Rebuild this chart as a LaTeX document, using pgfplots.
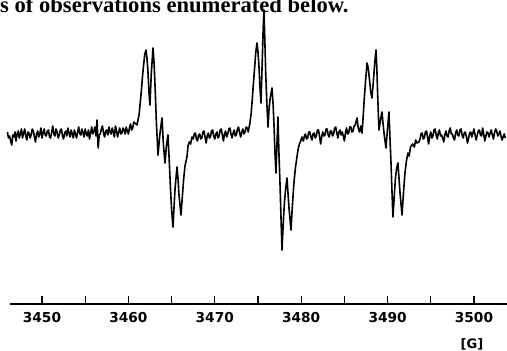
\documentclass[border=0pt]{standalone}
\usepackage{pgfplots}
\pgfplotsset{compat=1.18}
\usepackage{fontspec}
\setmainfont{Liberation Serif}
\newfontfamily\dvb{DejaVu Sans}[BoldFont={DejaVu Sans Bold}]
\begin{document}
\begin{tikzpicture}
\begin{axis}[
  at={(0,0)}, anchor=south west,
  scale only axis, width=497pt, height=304pt,
  xmin=3446.30, xmax=3503.82, ymin=0, ymax=304,
  clip=false,
  axis y line=none, axis x line*=bottom,
  axis line style={line width=1.2pt, black},
  xtick={3450,3455,...,3500},
  xticklabels={3450,,3460,,3470,,3480,,3490,,3500},
  tick align=inside, major tick length=8pt,
  tick style={line width=1.1pt, black},
  xticklabel style={font=\dvb\bfseries\fontsize{13.7}{14}\selectfont, yshift=-5pt},
]
\addplot[black, line width=1.6pt, line join=round] coordinates {
(3446.000,172) (3446.125,166) (3446.250,168) (3446.375,163) (3446.500,159) (3446.625,169)
(3446.750,167) (3446.875,172) (3447.000,163) (3447.125,170) (3447.250,173) (3447.375,166)
(3447.500,170) (3447.625,175) (3447.750,166) (3447.875,171) (3448.000,175) (3448.125,168)
(3448.250,164) (3448.375,172) (3448.500,171) (3448.625,166) (3448.750,169) (3448.875,175)
(3449.000,173) (3449.125,167) (3449.250,162) (3449.375,170) (3449.500,173) (3449.625,167)
(3449.750,170) (3449.875,176) (3450.000,166) (3450.125,171) (3450.250,175) (3450.375,169)
(3450.500,168) (3450.625,173) (3450.750,174) (3450.875,167) (3451.000,166) (3451.125,172)
(3451.250,178) (3451.375,170) (3451.500,168) (3451.625,175) (3451.750,172) (3451.875,166)
(3452.000,169) (3452.125,174) (3452.250,175) (3452.375,168) (3452.500,165) (3452.625,171)
(3452.750,173) (3452.875,168) (3453.000,176) (3453.125,171) (3453.250,167) (3453.375,174)
(3453.500,170) (3453.625,166) (3453.750,174) (3453.875,170) (3454.000,166) (3454.125,172)
(3454.250,177) (3454.375,170) (3454.500,169) (3454.625,175) (3454.750,171) (3454.875,167)
(3455.000,175) (3455.125,170) (3455.250,168) (3455.375,174) (3455.500,165) (3455.625,171)
(3455.750,177) (3455.875,170) (3456.000,173) (3456.125,177) (3456.250,168) (3456.375,184)
(3456.500,156) (3456.625,169) (3456.750,170) (3456.875,175) (3457.000,178) (3457.125,171)
(3457.250,167) (3457.375,173) (3457.500,174) (3457.625,169) (3457.750,177) (3457.875,172)
(3458.000,170) (3458.125,176) (3458.250,172) (3458.375,167) (3458.500,178) (3458.625,173)
(3458.750,167) (3458.875,172) (3459.000,176) (3459.125,170) (3459.250,171) (3459.375,176)
(3459.500,174) (3459.625,170) (3459.750,177) (3459.875,173) (3460.000,170) (3460.125,176)
(3460.250,180) (3460.375,174) (3460.500,176) (3460.625,182) (3460.750,181)
(3461.00,179) (3461.25,190) (3461.40,204) (3461.50,213) (3461.62,226) (3461.75,238)
(3461.90,250) (3462.04,254) (3462.15,246) (3462.25,235) (3462.38,212) (3462.50,199)
(3462.65,230) (3462.85,256) (3462.98,240) (3463.10,215) (3463.25,180) (3463.43,149)
(3463.65,170) (3463.89,186) (3464.05,160) (3464.24,141) (3464.40,158) (3464.58,169)
(3464.72,145) (3464.85,120) (3465.00,95) (3465.16,77) (3465.28,96) (3465.40,115)
(3465.63,137) (3465.75,125) (3465.85,110) (3466.09,89) (3466.25,108) (3466.40,125)
(3466.55,138) (3466.78,147) (3466.90,158) (3467.05,162) (3467.20,160) (3467.36,167)
(3467.500,165) (3467.625,170) (3467.750,171) (3467.875,165) (3468.000,163) (3468.125,169)
(3468.250,170) (3468.375,165) (3468.500,166) (3468.625,172) (3468.750,173) (3468.875,167)
(3469.000,161) (3469.125,168) (3469.250,171) (3469.375,166) (3469.500,167) (3469.625,173)
(3469.750,174) (3469.875,168) (3470.000,165) (3470.125,170) (3470.250,172) (3470.375,166)
(3470.500,168) (3470.625,174) (3470.750,175) (3470.875,169) (3471.000,163) (3471.125,170)
(3471.250,173) (3471.375,167) (3471.500,170) (3471.625,175) (3471.750,176) (3471.875,170)
(3472.000,166) (3472.125,171) (3472.250,174) (3472.375,168) (3472.500,169) (3472.625,175)
(3472.750,177) (3472.875,171) (3473.000,167) (3473.125,172) (3473.250,175) (3473.375,170)
(3473.500,172) (3473.625,177) (3473.750,176) (3473.875,172) (3474.000,178)
(3474.07,181) (3474.20,190) (3474.30,200) (3474.45,218) (3474.60,235) (3474.75,252)
(3474.88,261) (3475.00,252) (3475.10,240) (3475.22,218) (3475.35,201) (3475.50,245)
(3475.60,275) (3475.69,294) (3475.80,262) (3475.90,230) (3476.03,200) (3476.16,177)
(3476.28,195) (3476.40,205) (3476.62,216) (3476.75,200) (3476.85,180) (3476.97,150)
(3477.08,131) (3477.20,160) (3477.31,187) (3477.43,150) (3477.55,120) (3477.67,85)
(3477.78,54) (3477.92,80) (3478.05,100) (3478.20,115) (3478.36,126) (3478.48,110)
(3478.60,95) (3478.82,74) (3478.98,98) (3479.15,120) (3479.33,136) (3479.51,147)
(3479.65,155) (3479.80,160) (3479.95,163) (3480.09,167)
(3480.250,163) (3480.375,168) (3480.500,170) (3480.625,165) (3480.750,166) (3480.875,172)
(3481.000,172) (3481.125,167) (3481.250,164) (3481.375,170) (3481.500,171) (3481.625,166)
(3481.750,168) (3481.875,174) (3482.000,174) (3482.125,168) (3482.250,160) (3482.375,167)
(3482.500,172) (3482.625,168) (3482.750,169) (3482.875,175) (3483.000,175) (3483.125,169)
(3483.250,167) (3483.375,173) (3483.500,173) (3483.625,168) (3483.750,170) (3483.875,176)
(3484.000,177) (3484.125,171) (3484.250,166) (3484.375,172) (3484.500,174) (3484.625,169)
(3484.750,172) (3484.875,168) (3485.000,163) (3485.125,171) (3485.250,176) (3485.375,170)
(3485.500,171) (3485.625,177) (3485.750,177) (3485.875,172) (3486.000,173) (3486.125,178)
(3486.250,179)
(3486.46,186) (3486.60,176) (3486.75,172) (3486.90,178) (3487.04,171) (3487.18,188)
(3487.30,205) (3487.46,224) (3487.62,241) (3487.76,236) (3487.90,225) (3488.05,212)
(3488.19,206) (3488.35,222) (3488.50,240) (3488.66,254) (3488.76,235) (3488.85,210)
(3489.00,174) (3489.18,184) (3489.35,192) (3489.48,180) (3489.60,170) (3489.81,156)
(3490.00,176) (3490.16,192) (3490.28,165) (3490.40,140) (3490.52,110) (3490.62,87)
(3490.76,106) (3490.90,125) (3491.05,136) (3491.20,141) (3491.32,126) (3491.45,110)
(3491.67,89) (3491.83,110) (3492.00,130) (3492.18,143) (3492.36,151) (3492.50,148)
(3492.65,157) (3492.90,160) (3493.10,157) (3493.25,164) (3493.40,161)
(3493.625,162) (3493.750,165) (3493.875,170) (3494.000,171) (3494.125,165) (3494.250,166)
(3494.375,172) (3494.500,173) (3494.625,167) (3494.750,160) (3494.875,168) (3495.000,172)
(3495.125,166) (3495.250,168) (3495.375,174) (3495.500,175) (3495.625,169) (3495.750,165)
(3495.875,171) (3496.000,174) (3496.125,168) (3496.250,169) (3496.375,166) (3496.500,162)
(3496.625,169) (3496.750,173) (3496.875,168) (3497.000,167) (3497.125,173) (3497.250,176)
(3497.375,170) (3497.500,170) (3497.625,166) (3497.750,164) (3497.875,171) (3498.000,174)
(3498.125,169) (3498.250,168) (3498.375,174) (3498.500,175) (3498.625,169) (3498.750,166)
(3498.875,171) (3499.000,172) (3499.125,167) (3499.250,161) (3499.375,166) (3499.500,171)
(3499.625,172) (3499.750,167) (3499.875,171) (3500.000,175) (3500.125,169) (3500.250,164)
(3500.375,169) (3500.500,173) (3500.625,174) (3500.750,169) (3500.875,168) (3501.000,176)
(3501.125,170) (3501.250,163) (3501.375,168) (3501.500,172) (3501.625,171) (3501.750,167)
(3501.875,171) (3502.000,174) (3502.125,169) (3502.250,165) (3502.375,171) (3502.500,175)
(3502.625,173) (3502.750,168) (3502.875,170) (3503.000,173) (3503.125,168) (3503.250,164)
(3503.375,167) (3503.500,170) (3503.625,166)
};
\end{axis}
\node[font=\dvb\bfseries\fontsize{13}{14}\selectfont] at (462pt,-40pt) {[G]};
\begin{scope}
\clip (-10pt,-47pt) rectangle (497pt,304pt);
\node[anchor=base west, inner sep=0pt, font=\bfseries\fontsize{22.6}{24}\selectfont] at (-10pt,291.5pt) {s of observations enumerated below.};
\end{scope}
\pgfresetboundingbox
\useasboundingbox (-10pt,-47pt) rectangle (497pt,304pt);
\end{tikzpicture}
\end{document}
